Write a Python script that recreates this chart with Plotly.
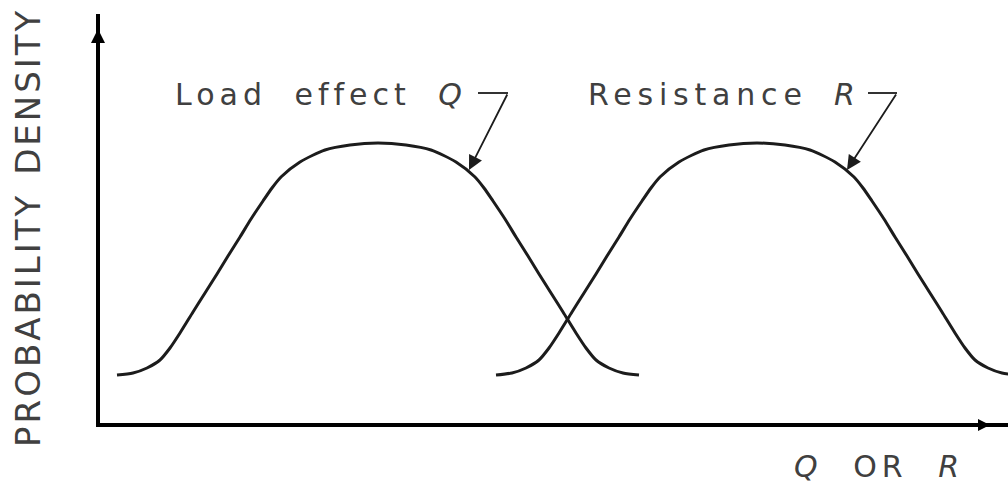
import plotly.graph_objects as go

# Load effect Q: probability density profile (arbitrary units along the Q/R axis)
load_x = [19, 35, 49, 62, 72, 82, 95, 107, 119, 130, 142, 153, 165, 174, 183, 202,
          227, 252, 280, 308, 333, 358, 377, 386, 395, 407, 418, 430, 441, 453,
          465, 478, 488, 498, 511, 525, 541]
load_density = [50, 52, 57, 65, 77, 92, 113, 132, 151, 169, 188, 206, 224, 237, 248,
                263, 275, 280, 282, 280, 275, 263, 248, 237, 224, 206, 188, 169, 151,
                132, 113, 92, 77, 65, 57, 52, 50]

# Resistance R: same spread, shifted to higher values
resist_x = [398, 414, 428, 441, 451, 461, 474, 486, 498, 509, 521, 532, 544, 553, 562,
            581, 606, 631, 659, 687, 712, 737, 756, 765, 774, 786, 797, 809, 820,
            832, 844, 857, 867, 877, 890, 904, 920]
resist_density = [50, 52, 57, 65, 77, 92, 113, 132, 151, 169, 188, 206, 224, 237, 248,
                  263, 275, 280, 282, 280, 275, 263, 248, 237, 224, 206, 188, 169, 151,
                  132, 113, 92, 77, 65, 57, 52, 50]

load_label = "Load effect <i>Q</i>"
resist_label = "Resistance <i>R</i>"
x_title = "<i>Q</i> OR <i>R</i>"
y_title = "PROBABILITY DENSITY"

X_MAX, Y_MAX = 910, 411
INK = "#1c1c1c"
TEXT = "#404040"
FONT = "DejaVu Sans"


def spaced(text, ls, ws):
    return f'<span style="letter-spacing:{ls}px;word-spacing:{ws}px">{text}</span>'


fig = go.Figure()
for xs, ys in ((load_x, load_density), (resist_x, resist_density)):
    fig.add_trace(go.Scatter(
        x=xs, y=ys, mode="lines",
        line=dict(color=INK, width=3, shape="spline", smoothing=0.7),
        hoverinfo="skip", showlegend=False,
    ))

shapes = [
    # axes
    dict(type="line", xref="paper", yref="paper", x0=-2 / X_MAX, x1=1, y0=0, y1=0,
         line=dict(color="#000", width=4)),
    dict(type="line", xref="paper", yref="paper", x0=0, x1=0, y0=0, y1=1,
         line=dict(color="#000", width=4)),
    # horizontal stubs of the leader lines
    dict(type="line", xref="x", yref="y", x0=380, x1=410, y0=332, y1=332,
         line=dict(color=INK, width=1.8)),
    dict(type="line", xref="x", yref="y", x0=770, x1=799, y0=332, y1=332,
         line=dict(color=INK, width=1.8)),
]

annotations = [
    # axis arrowheads
    dict(xref="paper", yref="paper", x=0, y=(Y_MAX - 15) / Y_MAX, ax=0, ay=22,
         text="", showarrow=True, arrowhead=2, arrowsize=0.7, arrowwidth=4,
         arrowcolor="#000"),
    dict(xref="paper", yref="paper", x=(990 - 98) / X_MAX, y=0, ax=-22, ay=0,
         text="", showarrow=True, arrowhead=2, arrowsize=0.6, arrowwidth=4,
         arrowcolor="#000"),
    # leader arrows to each curve
    dict(xref="x", yref="y", x=371, y=255, axref="x", ayref="y", ax=410, ay=332,
         text="", showarrow=True, arrowhead=2, arrowsize=1.6, arrowwidth=1.8,
         arrowcolor=INK),
    dict(xref="x", yref="y", x=749, y=255, axref="x", ayref="y", ax=799, ay=332,
         text="", showarrow=True, arrowhead=2, arrowsize=1.6, arrowwidth=1.8,
         arrowcolor=INK),
    # curve labels
    dict(xref="x", yref="y", x=75, y=331, xanchor="left", yanchor="middle",
         text=spaced(load_label, 5, 13), showarrow=False,
         font=dict(family=FONT, size=30, color=TEXT)),
    dict(xref="x", yref="y", x=488, y=331, xanchor="left", yanchor="middle",
         text=spaced(resist_label, 5.8, 11), showarrow=False,
         font=dict(family=FONT, size=30, color=TEXT)),
    # axis titles
    dict(xref="paper", yref="paper", x=(879 - 98) / X_MAX, y=(425 - 466) / Y_MAX,
         xanchor="center", yanchor="middle",
         text=spaced(x_title, 5, 16), showarrow=False,
         font=dict(family=FONT, size=30, color=TEXT)),
    dict(xref="paper", yref="paper", x=(28 - 98) / X_MAX, y=(425 - 228) / Y_MAX,
         xanchor="center", yanchor="middle", textangle=-90,
         text=spaced(y_title, 3, 4), showarrow=False,
         font=dict(family=FONT, size=34, color=TEXT)),
]

fig.update_layout(
    width=1008, height=484,
    margin=dict(l=98, r=0, t=14, b=59, pad=0),
    paper_bgcolor="white", plot_bgcolor="white",
    xaxis=dict(range=[0, X_MAX], visible=False, fixedrange=True),
    yaxis=dict(range=[0, Y_MAX], visible=False, fixedrange=True),
    shapes=shapes, annotations=annotations,
)

fig.write_html("out.html")
